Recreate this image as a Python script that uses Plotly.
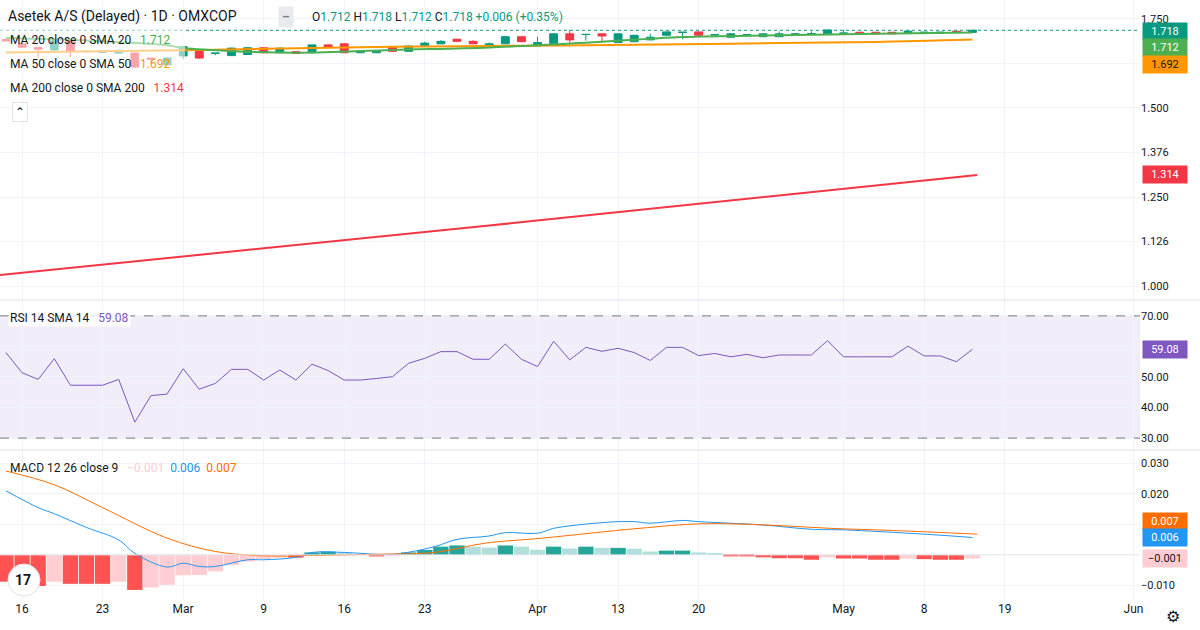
import plotly.graph_objects as go
from plotly.subplots import make_subplots

# ---------------- data ----------------
idx = list(range(-1, 60))
opens = [1.692,1.680,1.670,1.663,1.686,1.658,1.656,1.654,1.654,1.640,1.621,1.646,1.660,1.653,1.647,1.650,1.669,1.655,1.658,1.655,
         1.677,1.680,1.655,1.655,1.670,1.659,1.675,1.680,1.693,1.687,1.672,1.680,1.700,1.674,1.680,1.708,1.706,1.708,1.6835,1.686,
         1.691,1.704,1.712,1.7135,1.705,1.6985,1.703,1.700,1.700,1.706,1.708,1.708,1.7097,1.7125,1.7125,1.7125,1.712,1.7097,1.7097,1.7154,1.712]
closes = [1.688,1.6705,1.665,1.689,1.658,1.659,1.660,1.662,1.615,1.637,1.640,1.672,1.640,1.654,1.668,1.669,1.655,1.668,1.653,1.677,
          1.670,1.655,1.658,1.659,1.659,1.674,1.682,1.687,1.687,1.680,1.680,1.700,1.686,1.6835,1.708,1.691,1.7065,1.702,1.708,1.704,
          1.6985,1.7135,1.7125,1.704,1.7055,1.708,1.706,1.708,1.708,1.708,1.7085,1.719,1.710,1.708,1.708,1.708,1.7154,1.7125,1.7125,1.712,1.718]
highs = [1.694,1.682,1.671,1.690,1.687,1.660,1.661,1.663,1.655,1.641,1.641,1.673,1.661,1.654,1.669,1.670,1.670,1.669,1.659,1.678,
         1.679,1.681,1.659,1.660,1.671,1.675,1.686,1.690,1.694,1.690,1.684,1.701,1.701,1.700,1.709,1.719,1.707,1.709,1.709,1.705,
         1.708,1.714,1.713,1.714,1.706,1.709,1.707,1.709,1.715,1.709,1.715,1.720,1.719,1.713,1.713,1.713,1.716,1.713,1.713,1.716,1.718]
lows = [1.686,1.668,1.642,1.662,1.642,1.657,1.655,1.653,1.612,1.625,1.620,1.637,1.639,1.648,1.646,1.649,1.654,1.654,1.651,1.654,
        1.669,1.654,1.654,1.654,1.657,1.658,1.674,1.679,1.686,1.679,1.671,1.679,1.685,1.673,1.679,1.6835,1.689,1.6835,1.6825,1.685,
        1.690,1.703,1.693,1.703,1.702,1.698,1.702,1.699,1.699,1.705,1.707,1.707,1.708,1.707,1.707,1.707,1.711,1.709,1.709,1.711,1.712]

ma20_x = [-1, 4, 9, 10, 17, 23, 29, 35, 41, 47, 53, 59]
ma20_v = [1.696, 1.689, 1.676, 1.668, 1.655, 1.663, 1.670, 1.683, 1.699, 1.704, 1.708, 1.712]
ma50_x = [-1, 11, 23, 29, 35, 41, 47, 53, 59]
ma50_v = [1.656, 1.663, 1.672, 1.674, 1.676, 1.679, 1.682, 1.685, 1.692]
ma200_x = [-1.4, 29, 59.3]
ma200_v = [1.031, 1.170, 1.312]

rsi = [58.0,51.4,49.2,56.0,47.3,47.3,47.3,49.2,35.2,43.9,44.4,52.7,46.0,47.9,52.5,52.5,49.0,52.3,49.0,54.2,
       52.1,49.0,49.0,49.5,50.1,54.5,56.1,58.3,58.3,55.8,55.8,60.8,55.8,53.4,61.7,55.6,59.7,58.4,59.4,58.0,
       55.4,59.7,59.7,57.0,57.7,56.6,57.4,56.3,57.2,57.2,57.2,61.9,56.6,56.6,56.6,56.6,60.1,56.9,56.9,55.0,59.08]

hist = [-0.0088,-0.0102,-0.0102,-0.0088,-0.0095,-0.0095,-0.0095,-0.0088,-0.0115,-0.0107,-0.0098,-0.0067,-0.0066,-0.0054,-0.0033,-0.0022,
        -0.0014,-0.0009,-0.0009,0.0008,0.0011,0.0005,0.0002,-0.0005,-0.0003,0.0008,0.0016,0.0027,0.0031,0.0027,0.0024,0.0031,0.0027,
        0.0017,0.0027,0.0021,0.0027,0.0023,0.0023,0.0020,0.0011,0.0014,0.0014,0.0008,0.0004,-0.0005,-0.0005,-0.0008,-0.0011,-0.0011,
        -0.0016,-0.0008,-0.0012,-0.0012,-0.0016,-0.0016,-0.0012,-0.0014,-0.0016,-0.0016,-0.0012]
macd_x = [-1,1,2,4,6,7,9,10,11,12,14,15,17,18,20,23,25.6,27,29,30,32,33,35,37,38,39,41,42,46,49,51,56,59]
macd_v = [0.021,0.0155,0.0135,0.009,0.0049,0.0005,-0.004,-0.0027,-0.0038,-0.0038,-0.0016,-0.0016,-0.0008,0.0008,0.0008,0.0002,
          0.0027,0.0051,0.0062,0.0073,0.0071,0.0087,0.0101,0.0109,0.0109,0.0104,0.0113,0.0109,0.0098,0.0084,0.0082,0.0068,0.0057]
sig_x = [-1, 2, 5, 9, 12, 15, 18, 22, 25.6, 28.7, 32.3, 38.3, 42.2, 46.2, 50.2, 54.1, 59.3]
sig_v = [0.0275,0.023,0.0155,0.0055,0.0011,-0.0003,-0.0002,0.0002,0.0008,0.0038,0.0055,0.0087,0.0102,0.0098,0.0087,0.008,0.0068]

tick_pos = [0, 5, 10, 15, 20, 25, 32, 37, 42, 51, 56, 61, 69]
tick_txt = ["16", "23", "Mar", "9", "16", "23", "Apr", "13", "20", "May", "8", "19", "Jun"]

# ---------------- figure ----------------
UP, DN = "#089981", "#f23645"
fig = make_subplots(rows=3, cols=1, shared_xaxes=True, vertical_spacing=0,
                    row_heights=[0.5, 0.25, 0.25])

fig.add_trace(go.Scatter(x=ma200_x, y=ma200_v, mode="lines", line=dict(color="#f23645", width=2)), 1, 1)
fig.add_trace(go.Scatter(x=ma50_x, y=ma50_v, mode="lines", line=dict(color="#ff9800", width=2, shape="spline")), 1, 1)
fig.add_trace(go.Scatter(x=ma20_x, y=ma20_v, mode="lines", line=dict(color="#4caf50", width=2, shape="spline")), 1, 1)
fig.add_trace(go.Candlestick(x=idx, open=opens, high=highs, low=lows, close=closes,
                             increasing=dict(line=dict(color=UP, width=1), fillcolor=UP),
                             decreasing=dict(line=dict(color=DN, width=1), fillcolor=DN),
                             whiskerwidth=0), 1, 1)

fig.add_trace(go.Scatter(x=idx, y=rsi, mode="lines", line=dict(color="#7e57c2", width=1)), 2, 1)

hcol = []
for i, h in enumerate(hist):
    prev = hist[i - 1] if i > 0 else h
    if h >= 0:
        hcol.append("#26a69a" if h >= prev else "#b2dfdb")
    else:
        hcol.append("#ff5252" if h <= prev else "#ffcdd2")
fig.add_trace(go.Bar(x=idx, y=hist, marker=dict(color=hcol, line=dict(width=0)), width=0.95), 3, 1)
fig.add_trace(go.Scatter(x=macd_x, y=macd_v, mode="lines", line=dict(color="#2196f3", width=1, shape="spline")), 3, 1)
fig.add_trace(go.Scatter(x=sig_x, y=sig_v, mode="lines", line=dict(color="#ff6d00", width=1, shape="spline")), 3, 1)

grid = "#f0f3fa"
fig.update_xaxes(range=[-1.37, 69.4], showgrid=True, gridcolor=grid, tickvals=tick_pos, ticktext=tick_txt,
                 zeroline=False, showline=False, rangeslider=dict(visible=False),
                 tickfont=dict(size=12, color="#131722"))
fig.update_xaxes(showticklabels=False, row=1, col=1)
fig.update_xaxes(showticklabels=False, row=2, col=1)

yc = dict(side="right", showgrid=True, gridcolor=grid, zeroline=False, tickfont=dict(size=11, color="#131722"),
          ticks="", showline=False)
fig.update_yaxes(**yc)
fig.update_yaxes(range=[0.961, 1.803], tickvals=[1.0, 1.126, 1.25, 1.376, 1.5, 1.626, 1.75],
                 ticktext=["1.000", "1.126", "1.250", "1.376", "1.500", "", "1.750"], row=1, col=1)
fig.update_yaxes(range=[26.1, 75.2], tickvals=[30, 40, 50, 60, 70],
                 ticktext=["30.00", "40.00", "50.00", "", "70.00"], row=2, col=1)
fig.update_yaxes(range=[-0.0148, 0.0344], tickvals=[-0.01, 0, 0.01, 0.02, 0.03],
                 ticktext=["−0.010", "", "", "0.020", "0.030"], row=3, col=1)

shapes = [
    dict(type="rect", xref="x2", yref="y2", x0=-2, x1=72, y0=30, y1=70, fillcolor="rgba(126,87,194,0.1)", line=dict(width=0), layer="below"),
    dict(type="line", xref="x2 domain", yref="y2", x0=0, x1=1, y0=70, y1=70, line=dict(color="#787b86", width=1, dash="dash")),
    dict(type="line", xref="x2 domain", yref="y2", x0=0, x1=1, y0=30, y1=30, line=dict(color="#787b86", width=1, dash="dash")),
    dict(type="line", xref="x domain", yref="y", x0=0, x1=1, y0=1.718, y1=1.718, line=dict(color=UP, width=1, dash="dot")),
    dict(type="line", xref="paper", yref="paper", x0=0, x1=1.06, y0=0.5, y1=0.5, line=dict(color="#e0e3eb", width=1)),
    dict(type="line", xref="paper", yref="paper", x0=0, x1=1.06, y0=0.25, y1=0.25, line=dict(color="#e0e3eb", width=1)),
    dict(type="line", xref="x3 domain", yref="y3", x0=0, x1=1, y0=0, y1=0, line=dict(color="#e6e8ee", width=1)),
    dict(type="rect", xref="paper", yref="paper", x0=0, x1=185/1140, y0=1-75/600, y1=1-27/600,
         fillcolor="rgba(255,255,255,0.55)", line=dict(width=0), layer="above"),
    dict(type="circle", xref="paper", yref="paper", x0=8/1140, x1=40/1140, y0=(600-596)/600, y1=(600-564)/600,
         fillcolor="white", line=dict(color="#e0e3eb", width=1)),
]
fig.update_layout(shapes=shapes)

ann = []
def txt(x, y, s, color="#131722", size=12, **kw):
    ann.append(dict(xref="paper", yref="paper", x=x / 1140, y=1 - y / 600, text=s, showarrow=False,
                    xanchor="left", yanchor="middle", font=dict(size=size, color=color), **kw))

txt(6, 17, "Asetek A/S (Delayed) · 1D · OMXCOP", size=14)
txt(278, 17, "<b>–</b>", color="#787b86", size=12, bgcolor="#e9eaee", borderpad=3)
g = "#089981"
txt(310, 17, f"O<span style='color:{g}'>1.712</span> H<span style='color:{g}'>1.718</span> "
             f"L<span style='color:{g}'>1.712</span> C<span style='color:{g}'>1.718</span> "
             f"<span style='color:{g}'>+0.006 (+0.35%)</span>", size=12)
txt(8, 40, "MA 20 close 0 SMA 20   <span style='color:#4caf50'>1.712</span>", size=12)
txt(8, 64, "MA 50 close 0 SMA 50   <span style='color:#ff9800'>1.692</span>", size=12)
txt(8, 88, "MA 200 close 0 SMA 200   <span style='color:#f23645'>1.314</span>", size=12)
txt(12, 112, "⌃", color="#131722", size=12, bgcolor="white", bordercolor="#e0e3eb", borderwidth=1, borderpad=2)
txt(8, 318, "RSI 14 SMA 14   <span style='color:#7e57c2'>59.08</span>", size=12, bgcolor="rgba(255,255,255,0.8)")
txt(8, 468, "MACD 12 26 close 9   <span style='color:#ffcdd2'>−0.001</span>  "
            "<span style='color:#2196f3'>0.006</span>  <span style='color:#ff6d00'>0.007</span>", size=12)
txt(13, 580, "<b>17</b>", color="#131722", size=14)
ann.append(dict(xref="paper", yref="paper", x=1173/1140, y=-16/600, text="⚙", showarrow=False,
                font=dict(size=16, color="#131722"), xanchor="center", yanchor="middle"))

def tag(yref, y, s, bg, fc="white"):
    ann.append(dict(xref="paper", yref=yref, x=1.0015, y=y, text=s, showarrow=False, xanchor="left",
                    yanchor="middle", bgcolor=bg, font=dict(size=11, color=fc), width=40, borderpad=2))

tag("y", 1.716, "1.718", UP)
tag("y", 1.669, "1.712", "#4caf50")
tag("y", 1.621, "1.692", "#ff9800", "#131722")
tag("y", 1.314, "1.314", "#f23645")
tag("y2", 59.08, "59.08", "#7e57c2")
tag("y3", 0.0111, "0.007", "#ff6d00")
tag("y3", 0.0056, "0.006", "#2196f3")
tag("y3", -0.0013, "−0.001", "#ffcdd2", "#131722")

fig.update_layout(annotations=ann, width=1200, height=630, showlegend=False,
                  margin=dict(l=0, r=60, t=0, b=30), paper_bgcolor="white", plot_bgcolor="white",
                  font=dict(family="Roboto, sans-serif"), bargap=0.05)
fig.write_html("out.html", config={"displayModeBar": False},
               post_script="document.body.style.margin='0';document.body.style.overflow='hidden';")
